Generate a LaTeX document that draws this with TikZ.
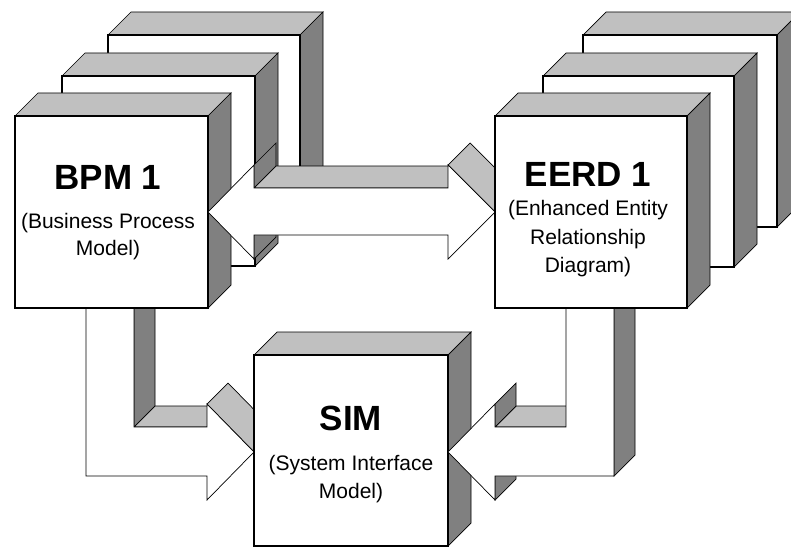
\documentclass[tikz,border=0pt]{standalone}
\usepackage{fontspec}
\setmainfont{Liberation Sans}
\definecolor{lgray}{HTML}{C0C0C0}
\definecolor{dgray}{HTML}{808080}
\tikzset{
  face/.style={draw=black,line width=0.7pt,line join=miter},
  topface/.style={face,fill=lgray},
  sideface/.style={face,fill=dgray},
  boxfront/.style={draw=black,fill=white,line width=2pt},
  arrowfront/.style={draw=black,fill=white,line width=0.7pt,line join=miter},
  title/.style={font=\bfseries\fontsize{35}{40}\selectfont,inner sep=0pt,anchor=base},
  sub/.style={font=\fontsize{21}{27}\selectfont,inner sep=0pt,anchor=base},
}
% name, x1, y1, x2, y2  (pixel coordinates, y downwards)
\newcommand{\drawcube}[5]{%
  \path[topface] (#2,#3) -- ({#2+23},{#3-23}) -- ({#4+23},{#3-23}) -- (#4,#3) -- cycle;
  \path[sideface] (#4,#3) -- ({#4+23},{#3-23}) -- ({#4+23},{#5-23}) -- (#4,#5) -- cycle;
  \path[boxfront] (#2,#3) rectangle (#4,#5);
  \coordinate (#1) at ({(#2+#4)/2},{(#3+#5)/2});
}
\begin{document}
\begin{tikzpicture}[x=1pt,y=-1pt]
\useasboundingbox (0,0) rectangle (791,548);
\clip (0,0) rectangle (791,548);

% BPM stack
\drawcube{bpmback}{108}{35}{300}{226}
\drawcube{bpmmid}{62}{76}{255}{266}

% BPM -> SIM arrow
\path[sideface] (134,308) -- (134,427) -- (155,406) -- (155,287) -- cycle;
\path[topface] (134,427) -- (207,427) -- (228,406) -- (155,406) -- cycle;
\path[topface] (207,404) -- (254,452) -- (275,431) -- (228,383) -- cycle;
\path[arrowfront] (86,308) -- (86,476) -- (207,476) -- (207,500) -- (254,452)
  -- (207,404) -- (207,427) -- (134,427) -- (134,308) -- cycle;

\drawcube{bpmfront}{15}{116}{208}{308}

% SIM box
\drawcube{sim}{254}{355}{448}{546}

% EERD back stack
\drawcube{eerdback}{583}{35}{777}{227}
\drawcube{eerdmid}{543}{76}{734}{267}

% EERD -> SIM arrow
\path[sideface] (614,308) -- (614,476) -- (635,455) -- (635,287) -- cycle;
\path[topface] (566,427) -- (495,427) -- (516,406) -- (587,406) -- cycle;
\path[sideface] (495,427) -- (495,404) -- (516,383) -- (516,406) -- cycle;
\path[sideface] (495,500) -- (495,476) -- (516,455) -- (516,479) -- cycle;
\path[arrowfront] (566,308) -- (566,427) -- (495,427) -- (495,404) -- (448,452)
  -- (495,500) -- (495,476) -- (614,476) -- (614,308) -- cycle;

% double arrow BPM <-> EERD
\path[sideface] (254,165) -- (254,188) -- (276,166) -- (276,143) -- cycle;
\path[topface] (254,188) -- (448,188) -- (470,166) -- (276,166) -- cycle;
\path[topface] (448,165) -- (495,212) -- (517,190) -- (470,143) -- cycle;
\path[sideface] (254,235) -- (254,259) -- (276,237) -- (276,213) -- cycle;
\path[arrowfront] (208,212) -- (254,165) -- (254,188) -- (448,188) -- (448,165)
  -- (495,212) -- (448,259) -- (448,235) -- (254,235) -- (254,259) -- cycle;

\drawcube{eerdfront}{495}{116}{687}{308}

% texts
\node[title] (bpmT) at (108,189) {BPM 1};
\node[sub] (bpmS1) at (108,228) {(Business Process};
\node[sub] (bpmS2) at (108,255) {Model)};
\node[title] (eerdT) at (588,186) {EERD 1};
\node[sub] (eerdS1) at (588,215) {(Enhanced Entity};
\node[sub] (eerdS2) at (588,244) {Relationship};
\node[sub] (eerdS3) at (588,272) {Diagram)};
\node[title] (simT) at (351,430) {SIM};
\node[sub] (simS1) at (351,470) {(System Interface};
\node[sub] (simS2) at (351,498) {Model)};
\end{tikzpicture}
\end{document}
